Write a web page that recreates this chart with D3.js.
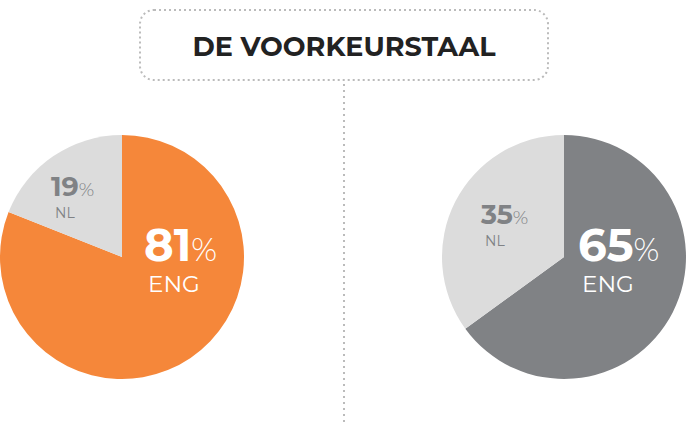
<!DOCTYPE html>
<html><head><meta charset="utf-8">
<script src="https://cdn.jsdelivr.net/npm/d3@7"></script>
<style>body{margin:0;background:#fff}</style></head>
<body><svg id="c" width="693" height="422"></svg>
<script>
const title = "DE VOORKEURSTAAL";
const categories = ["ENG","NL"];
const leftValues = [81,19];
const rightValues = [65,35];
const svg = d3.select("#c");
const F = "Montserrat, 'Open Sans', Lato, sans-serif";
svg.append("rect").attr("x",140).attr("y",10).attr("width",408).attr("height",70).attr("rx",14)
  .attr("fill","none").attr("stroke","#bbb").attr("stroke-width",2).attr("stroke-dasharray","2,3");
svg.append("text").attr("x",344).attr("y",56).attr("text-anchor","middle").attr("font-family",F)
  .attr("font-weight",700).attr("font-size",27).attr("fill","#222").text(title);
svg.append("line").attr("x1",344).attr("x2",344).attr("y1",84).attr("y2",422)
  .attr("stroke","#bbb").attr("stroke-width",2).attr("stroke-dasharray","2,4");
const pie = d3.pie().sort(null);
const arc = d3.arc().innerRadius(0).outerRadius(122);
function draw(vals, cx, colors, big, small){
  const g = svg.append("g").attr("transform",`translate(${cx},257)`);
  g.selectAll("path").data(pie(vals)).join("path").attr("d",arc).attr("fill",(d,i)=>colors[i]);
  [[big,vals[0],categories[0],"#fff",45,23,31],[small,vals[1],categories[1],"#808285",27,14,22]].forEach(([p,v,c,col,fs,ls,dy])=>{
    const t = svg.append("text").attr("x",p[0]).attr("y",p[1]).attr("font-family",F).attr("fill",col);
    t.append("tspan").attr("font-weight",700).attr("font-size",fs).text(v);
    t.append("tspan").attr("font-weight",300).attr("font-size",fs*0.7).text("%");
    svg.append("text").attr("x",p[0]+4).attr("y",p[1]+dy).attr("font-family",F)
      .attr("font-size",ls).attr("fill",col).text(c);
  });
}
draw(leftValues,122,["#f5873a","#dcdcdc"],[144,261],[51,196]);
draw(rightValues,564,["#808285","#dcdcdc"],[578,261],[481,224]);
</script></body></html>
